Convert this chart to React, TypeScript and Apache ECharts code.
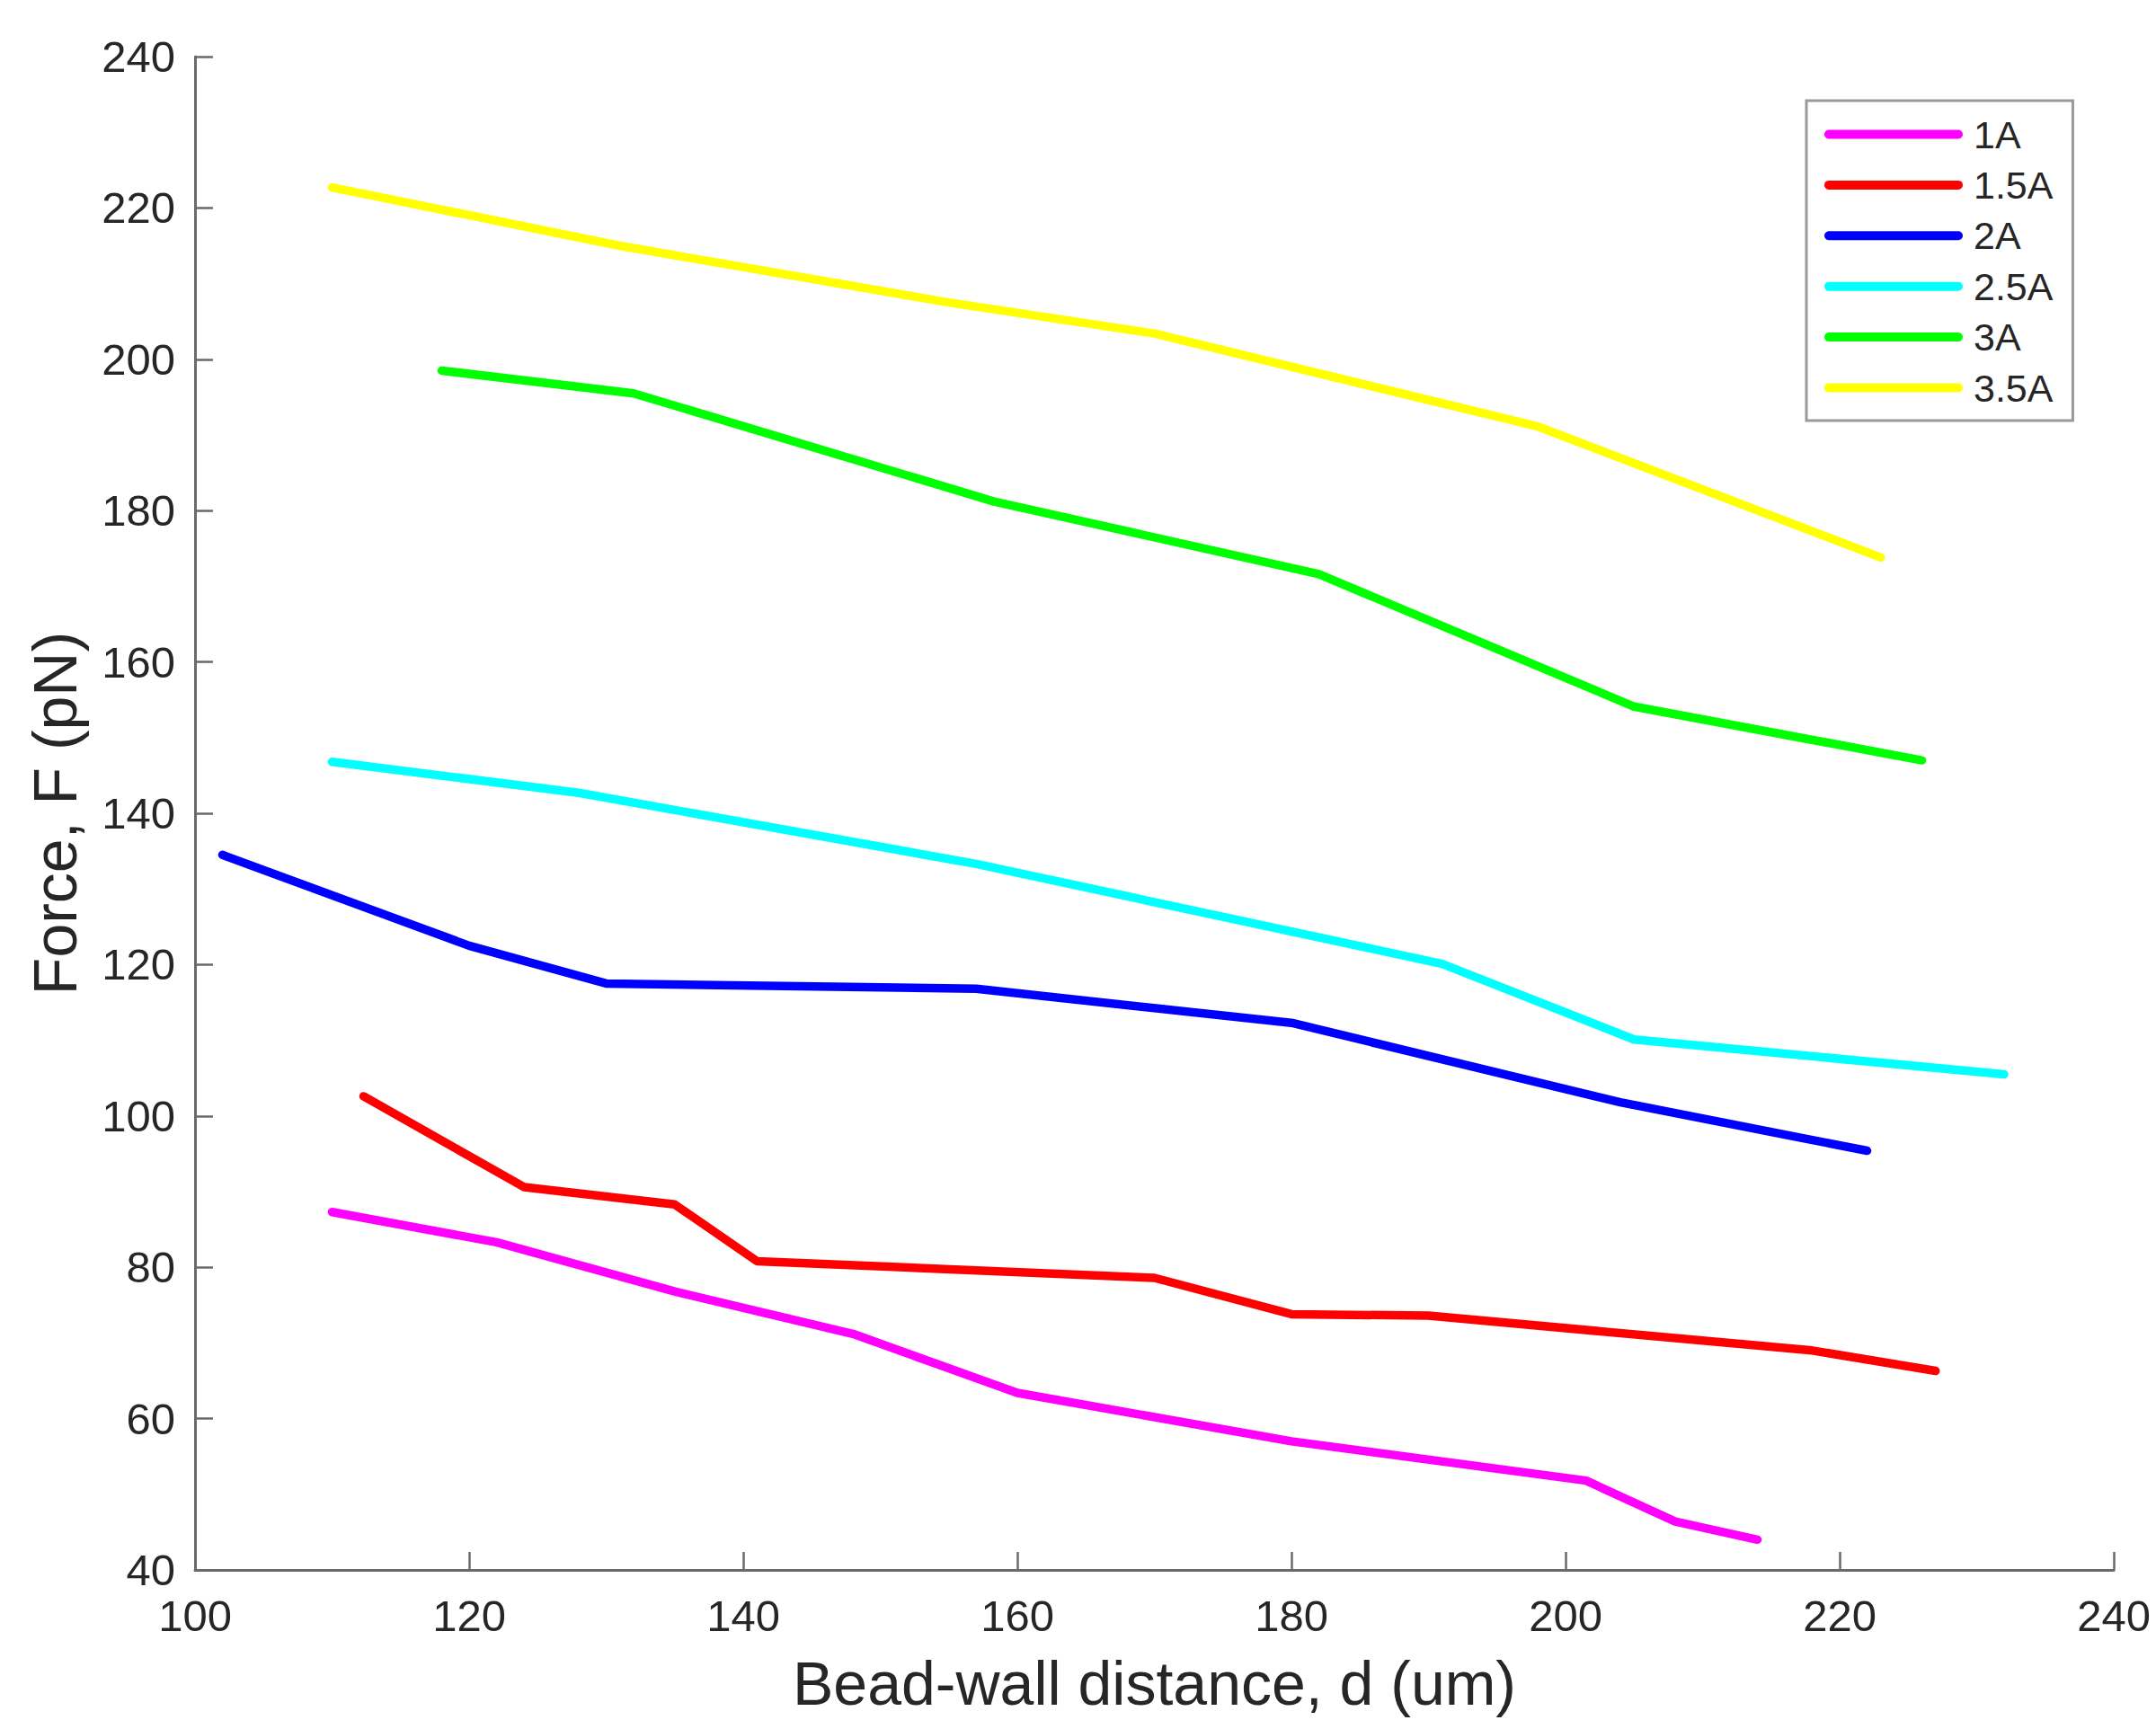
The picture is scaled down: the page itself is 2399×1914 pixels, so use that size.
import React, { useEffect, useRef } from "react";
import * as echarts from "echarts";

const seriesNames = ["1A", "1.5A", "2A", "2.5A", "3A", "3.5A"];
const seriesColors = ["#ff00ff", "#ff0000", "#0000ff", "#00ffff", "#00ff00", "#ffff00"];

const data1A: [number, number][] = [
  [110, 87.3], [122, 83.3], [135, 76.8], [148, 71.2], [160, 63.4],
  [180, 57.0], [201.5, 51.8], [208, 46.4], [214, 44.0],
];
const data15A: [number, number][] = [
  [112.3, 102.6], [124, 90.6], [135, 88.3], [141, 80.8], [170, 78.6],
  [180, 73.8], [190, 73.6], [218, 69.0], [227, 66.3],
];
const data2A: [number, number][] = [
  [102, 134.5], [120, 122.5], [130, 117.5], [157, 116.8], [180, 112.3],
  [204, 101.8], [222, 95.4],
];
const data25A: [number, number][] = [
  [110, 146.8], [128, 142.7], [157, 133.3], [191, 120.1], [205, 110.1], [232, 105.5],
];
const data3A: [number, number][] = [
  [118, 198.5], [132, 195.5], [158.3, 181.2], [182, 171.6], [205, 154.1], [226, 147.0],
];
const data35A: [number, number][] = [
  [110, 222.7], [131, 215.0], [155, 207.5], [170, 203.4], [198, 191.1], [223, 173.8],
];
const allData = [data1A, data15A, data2A, data25A, data3A, data35A];

const xAxisTitle = "Bead-wall distance, d (um)";
const yAxisTitle = "Force, F (pN)";

const FONT = "'Liberation Sans', Arial, Helvetica, sans-serif";
const TEXT = "#262626";
const AXIS = "#6a6a6a";

export default function App() {
  const ref = useRef<HTMLDivElement>(null);
  useEffect(() => {
    document.body.style.margin = "0";
    const chart = echarts.init(ref.current!, null, { renderer: "svg" });
    chart.setOption({
      animation: false,
      backgroundColor: "#ffffff",
      textStyle: { fontFamily: FONT, color: TEXT },
      grid: { left: 217, right: 47, top: 63, bottom: 167, containLabel: false },
      legend: {
        orient: "vertical",
        left: 2010,
        top: 112,
        data: seriesNames,
        itemWidth: 144,
        itemHeight: 10,
        itemGap: 13.4,
        padding: [16, 22, 15, 20],
        borderColor: "#9a9a9a",
        borderWidth: 3,
        backgroundColor: "#ffffff",
        textStyle: { fontFamily: FONT, fontSize: 43, color: TEXT, padding: [0, 0, 0, 12] },
        lineStyle: { width: 10 },
      },
      xAxis: {
        type: "value",
        min: 100,
        max: 240,
        interval: 20,
        name: xAxisTitle,
        nameLocation: "middle",
        nameGap: 92,
        nameTextStyle: { fontFamily: FONT, fontSize: 68, color: TEXT },
        axisLine: { show: true, onZero: false, lineStyle: { color: AXIS, width: 3 } },
        axisTick: { show: true, inside: true, length: 20, lineStyle: { color: AXIS, width: 2.5 } },
        axisLabel: { fontFamily: FONT, fontSize: 49, color: TEXT, margin: 26 },
        splitLine: { show: false },
      },
      yAxis: {
        type: "value",
        min: 40,
        max: 240,
        interval: 20,
        name: yAxisTitle,
        nameLocation: "middle",
        nameGap: 122,
        nameTextStyle: { fontFamily: FONT, fontSize: 68, color: TEXT },
        axisLine: { show: true, onZero: false, lineStyle: { color: AXIS, width: 3 } },
        axisTick: { show: true, inside: true, length: 20, lineStyle: { color: AXIS, width: 2.5 } },
        axisLabel: { fontFamily: FONT, fontSize: 49, color: TEXT, margin: 22 },
        splitLine: { show: false },
      },
      series: seriesNames.map((name, i) => ({
        name,
        type: "line",
        data: allData[i],
        symbol: "none",
        showSymbol: false,
        color: seriesColors[i],
        lineStyle: { color: seriesColors[i], width: 9.5, cap: "round", join: "round" },
        itemStyle: { color: seriesColors[i] },
      })),
    });
    return () => chart.dispose();
  }, []);
  return (
    <div
      ref={ref}
      style={{ position: "fixed", left: 0, top: 0, width: 2399, height: 1914, background: "#fff" }}
    />
  );
}
